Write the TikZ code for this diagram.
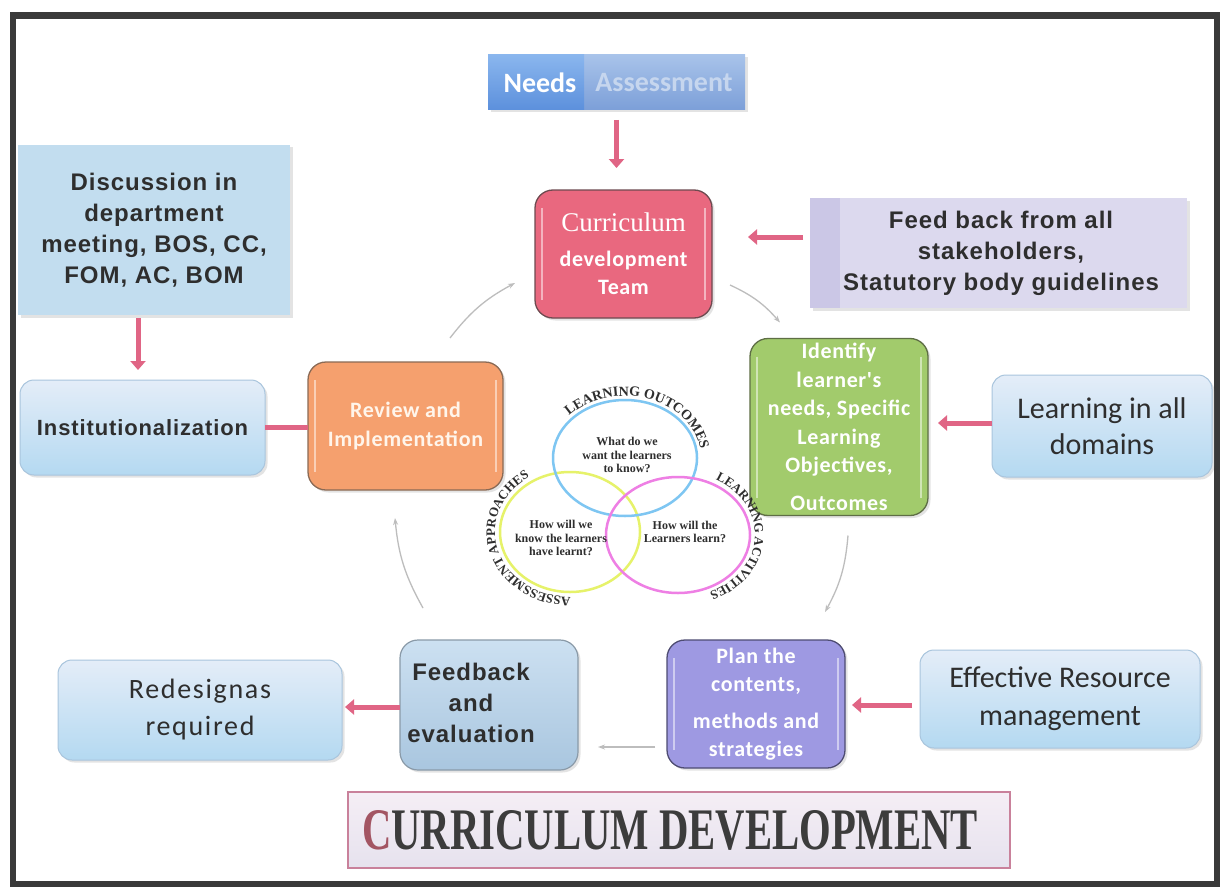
\documentclass[tikz,border=0pt]{standalone}
\usepackage{fontspec}
\usepackage{graphicx}
\newfontfamily\fcal{Carlito}
\newfontfamily\fari{Liberation Sans}
\newfontfamily\ftms{Liberation Serif}
\usetikzlibrary{arrows.meta,decorations.text,shadows}
\definecolor{frm}{HTML}{3A3A3A}
\definecolor{pk}{HTML}{E06585}
\definecolor{cdtc}{HTML}{E9687F}
\definecolor{cdte}{HTML}{6E4A50}
\definecolor{revc}{HTML}{F5A06E}
\definecolor{reve}{HTML}{8A6A55}
\definecolor{idnc}{HTML}{A2CB6C}
\definecolor{idne}{HTML}{5E6E45}
\definecolor{planc}{HTML}{9E99E2}
\definecolor{plane}{HTML}{4E4C72}
\definecolor{lbt}{HTML}{E4EDF8}
\definecolor{lbb}{HTML}{B4D9F1}
\definecolor{lbe}{HTML}{A9C5DD}
\definecolor{fet}{HTML}{CCE0F1}
\definecolor{feb}{HTML}{A9C6DF}
\definecolor{fee}{HTML}{8A9AA8}
\definecolor{discc}{HTML}{C2DDEF}
\definecolor{fbc}{HTML}{DCD9EE}
\definecolor{fbs}{HTML}{CBC7E6}
\definecolor{txd}{HTML}{2E2E2E}
\definecolor{gr}{HTML}{BDBDBD}
\definecolor{vblue}{HTML}{7EC6F2}
\definecolor{vyel}{HTML}{E6F26A}
\definecolor{vmag}{HTML}{EE7FE4}
\definecolor{ttl}{HTML}{3C3C3C}
\definecolor{ttlc}{HTML}{A35563}
\definecolor{ttlt}{HTML}{F5EEF5}
\definecolor{ttlb}{HTML}{E6E2EE}
\definecolor{ttle}{HTML}{C9819B}
\definecolor{nalt}{HTML}{8AB6EE}
\definecolor{nalb}{HTML}{5C90DC}
\definecolor{nart}{HTML}{A8C3EA}
\definecolor{narb}{HTML}{7C9FD8}
\definecolor{natx}{HTML}{C6D6EE}
\begin{document}
\begin{tikzpicture}[x=1pt,y=-1pt,
  every node/.style={inner sep=0pt, outer sep=0pt},
  shad/.style={drop shadow={opacity=0.22,shadow xshift=2.5pt,shadow yshift=-2.5pt}},
  hl/.style={path picture={
     \draw[white,opacity=0.5,line width=2pt] ([xshift=7pt,yshift=-18pt]path picture bounding box.north west) -- ([xshift=7pt,yshift=18pt]path picture bounding box.south west);
     \draw[white,opacity=0.5,line width=2pt] ([xshift=-7pt,yshift=-18pt]path picture bounding box.north east) -- ([xshift=-7pt,yshift=18pt]path picture bounding box.south east);}},
  cbox/.style={shad, hl, rounded corners=18pt, draw=#1, line width=1.3pt, text=white, align=center,
     font=\fcal\bfseries\fontsize{22}{28.5}\selectfont\addfontfeature{LetterSpace=3}},
  lbox/.style={shad, rounded corners=14pt, draw=lbe, line width=1pt, top color=lbt, bottom color=lbb, text=txd, align=center},
  parrow/.style={draw=pk, line width=5pt, -{Triangle[width=15pt,length=9pt]}},
  pline/.style={draw=pk, line width=5pt},
  garrow/.style={draw=gr, line width=1.3pt, -{Stealth[length=7pt,width=5pt]}},
  vtext/.style={font=\ftms\bfseries\fontsize{12}{13.5}\selectfont, align=center, text=txd}
]
\useasboundingbox (0,0) rectangle (1223,888);
\fill[white] (0,0) rectangle (1223,888);
\draw[frm, line width=6pt] (13,16) rectangle (1217,884);
\draw[frm, line width=4pt] (10,14) -- (1220,14);

% Needs assessment
\node[shad, minimum width=257pt, minimum height=55pt, top color=nart, bottom color=narb] (na) at (616.5,82.5) {};
\node[minimum width=96pt, minimum height=55pt, anchor=north west, top color=nalt, bottom color=nalb] (nal) at (na.north west) {};
\node[text=white, font=\fcal\bfseries\fontsize{28}{28}\selectfont] (na1) at (540,83) {Needs};
\node[text=natx, font=\fcal\bfseries\fontsize{28}{28}\selectfont] (na2) at (664,83) {Assessment};

% cycle boxes
\node[cbox=cdte, fill=cdtc, minimum width=177pt, minimum height=128pt] (cdt) at (623.5,254)
  {{\ftms\mdseries\fontsize{27}{27}\selectfont Curriculum}\\[6pt]development\\Team};
\node[cbox=idne, fill=idnc, minimum width=178pt, minimum height=177pt] (idn) at (839,427)
  {Identify\\learner's\\needs, Specific\\Learning\\Objectives,\\[9pt]Outcomes};
\node[cbox=plane, fill=planc, minimum width=178pt, minimum height=128pt] (plan) at (756,704)
  {Plan the\\contents,\\[8pt]methods and\\strategies};
\node[cbox=reve, fill=revc, minimum width=195pt, minimum height=128pt, text=white!92!orange] (rev) at (405.5,426)
  {Review and\\Implementation};
\node[shad, rounded corners=18pt, draw=fee, line width=1.2pt, top color=fet, bottom color=feb, text=txd,
  minimum width=178pt, minimum height=130pt, font=\fari\bfseries\fontsize{24}{31}\selectfont\addfontfeature{LetterSpace=4}] (fe) at (489,705)
  {\begin{tabular}{@{}c@{}}Feedback\\and\\evaluation\end{tabular}\rule{36pt}{0pt}};

% side boxes
\node[shad, fill=discc, minimum width=272pt, minimum height=170pt, text=txd, align=center,
  font=\fari\bfseries\fontsize{24}{31}\selectfont\addfontfeature{LetterSpace=4}] (disc) at (154,230)
  {Discussion in\\department\\meeting, BOS,\ CC,\\FOM, AC, BOM};
\node[lbox, minimum width=245pt, minimum height=95pt, font=\fari\bfseries\fontsize{22}{22}\selectfont\addfontfeature{LetterSpace=4}] (inst) at (142.5,427.5)
  {Institutionalization};
\node[shad, fill=fbc, minimum width=377pt, minimum height=110pt] (fb) at (998.5,253) {};
\fill[fbs] (fb.north west) rectangle ([xshift=30pt]fb.south west);
\node[text=txd, align=center, font=\fari\bfseries\fontsize{24}{31}\selectfont\addfontfeature{LetterSpace=4}] (fbt) at (1001,253)
  {Feed back from all\\stakeholders,\\Statutory body guidelines};
\node[lbox, minimum width=220pt, minimum height=102pt, font=\fcal\fontsize{30}{36}\selectfont] (lad) at (1102,426)
  {Learning in all\\domains};
\node[lbox, minimum width=280pt, minimum height=98pt, font=\fcal\fontsize{30}{38}\selectfont] (erm) at (1060,699)
  {Effective Resource\\management};
\node[lbox, minimum width=284pt, minimum height=100pt, font=\fcal\fontsize{28}{37}\selectfont\addfontfeature{LetterSpace=6}] (rd) at (200,710)
  {Redesignas\\required};

% pink arrows
\draw[parrow, shorten <=10pt, shorten >=22pt] (na.south) -- (na.south |- cdt.north);
\draw[parrow, shorten <=7pt, shorten >=36pt] ([yshift=16pt]fb.west) -- ([yshift=16pt]fb.west -| cdt.east);
\draw[parrow, shorten <=3pt, shorten >=10pt] ([xshift=-16pt]disc.south) -- ([xshift=-16pt]disc.south |- inst.north);
\draw[pline] (inst.east) -- (inst.east -| rev.west);
\draw[parrow, shorten >=10pt] ([yshift=3pt]lad.west) -- ([yshift=3pt]lad.west -| idn.east);
\draw[parrow, shorten <=8pt, shorten >=7pt] ([yshift=-6pt]erm.west) -- ([yshift=-6pt]erm.west -| plan.east);
\draw[parrow, shorten >=3pt] ([yshift=-2pt]fe.west) -- ([yshift=-2pt]fe.west -| rd.east);

% grey cycle arrows
\draw[garrow] ([xshift=18pt,yshift=-31pt]cdt.east) to[bend left=12] ([xshift=-59pt,yshift=16pt]idn.north);
\draw[garrow] ([xshift=9pt,yshift=-20pt]idn.south) to[bend left=12] ([xshift=69pt,yshift=28pt]plan.north);
\draw[garrow, shorten <=12pt, shorten >=20pt] ([yshift=-43pt]plan.west) -- ([yshift=-43pt]plan.west -| fe.east);
\draw[garrow] ([xshift=-66pt,yshift=32pt]fe.north) to[bend left=12] ([xshift=-10.5pt,yshift=-28pt]rev.south);
\draw[garrow] ([xshift=44.5pt,yshift=24pt]rev.north) to[bend left=12] ([xshift=-20pt,yshift=-29pt]cdt.west);

% Venn diagram
\draw[vyel, line width=2.5pt] (570,532) ellipse [x radius=70, y radius=60];
\draw[vblue, line width=2.5pt] (625,458) ellipse [x radius=72, y radius=58];
\draw[vmag, line width=2.5pt] (678,535) ellipse [x radius=72, y radius=58];
\path[decorate, decoration={text along path, text align=center,
   text={|\ftms\bfseries\fontsize{14}{14}\selectfont\color{txd}|LEARNING OUTCOMES}}]
   ([shift={(625,458)}]196:76 and 62) arc[start angle=196, end angle=380, x radius=76, y radius=62];
\path[decorate, decoration={text along path, text align=center,
   text={|\ftms\bfseries\fontsize{13}{13}\selectfont\color{txd}|LEARNING ACTIVITIES}}]
   ([shift={(678,535)}]280:77 and 63) arc[start angle=280, end angle=445, x radius=77, y radius=63];
\path[decorate, decoration={text along path, text align=center,
   text={|\ftms\bfseries\fontsize{13}{13}\selectfont\color{txd}|ASSESSMENT APPROACHES}}]
   ([shift={(570,532)}]62:75 and 65) arc[start angle=62, end angle=265, x radius=75, y radius=65];
\node[vtext] (q1) at (627,455) {What do we\\want the learners\\to know?};
\node[vtext] (q2) at (561,538) {How will we\\know the learners\\have learnt?};
\node[vtext] (q3) at (685,532) {How will the\\Learners learn?};

% title
\node[draw=ttle, line width=1.5pt, top color=ttlt, bottom color=ttlb, minimum width=662pt, minimum height=76pt] (ttlbox) at (679,830) {};
\node[anchor=base west] (ttl) at (362,849)
  {\resizebox{616pt}{39pt}{\ftms\bfseries\textcolor{ttlc}{C}\textcolor{ttl}{URRICULUM DEVELOPMENT}}};
\end{tikzpicture}
\end{document}
